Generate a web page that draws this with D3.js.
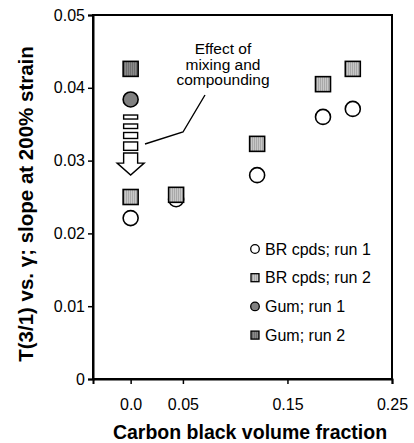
<!DOCTYPE html>
<html><head><meta charset="utf-8">
<script src="https://cdn.jsdelivr.net/npm/d3@7"></script>
<style>body{margin:0;background:#fff}svg{display:block}</style>
</head><body>
<script>
// ---- data ----
const brX = [0, 0.0435, 0.121, 0.184, 0.2125];
const brRun1 = [0.0221, 0.0247, 0.0280, 0.0360, 0.0371];
const brRun2 = [0.0250, 0.0253, 0.0323, 0.0405, 0.0426];
const gumX = [0];
const gumRun1 = [0.0384];
const gumRun2 = [0.0426];
const xTicks = [0, 0.05, 0.15, 0.25];
const xTickLabels = ["0.0", "0.05", "0.15", "0.25"];
const yTicks = [0, 0.01, 0.02, 0.03, 0.04, 0.05];
const yTickLabels = ["0", "0.01", "0.02", "0.03", "0.04", "0.05"];
const legendLabels = ["BR cpds; run 1", "BR cpds; run 2", "Gum; run 1", "Gum; run 2"];
const annotationLines = ["Effect of", "mixing and", "compounding"];
// arrow annotation in data units (x = 0): stripes then shaft and tip
const arrowStripes = [[0.03626, 0.03571], [0.03503, 0.03441], [0.03386, 0.03304], [0.03256, 0.03141]];
const arrowShaft = [0.03104, 0.02966];
const arrowTip = 0.02802;

const W = 414, H = 443;
const font = "'Liberation Sans', Arial, sans-serif";
const svg = d3.select("body").append("svg").attr("width", W).attr("height", H);

const x = d3.scaleLinear().domain([-0.036, 0.25]).range([93, 392]);
const y = d3.scaleLinear().domain([0, 0.05]).range([379, 15]);

// patterns
const defs = svg.append("defs");
function stripe(id, c1, c2) {
  const p = defs.append("pattern").attr("id", id).attr("patternUnits", "userSpaceOnUse")
    .attr("width", 2).attr("height", 2);
  p.append("rect").attr("width", 2).attr("height", 2).attr("fill", c1);
  p.append("rect").attr("width", 1).attr("height", 2).attr("fill", c2);
}
stripe("lightStripe", "#c8c8c8", "#a8a8a8");
stripe("darkStripe", "#8a8a8a", "#6e6e6e");

// frame
svg.append("rect").attr("x", x.range()[0]).attr("y", y.range()[1])
  .attr("width", x.range()[1] - x.range()[0]).attr("height", y.range()[0] - y.range()[1])
  .attr("fill", "none").attr("stroke", "#000").attr("stroke-width", 2);

// axes
const xAxis = d3.axisBottom(x).tickValues(xTicks).tickSize(5).tickPadding(15)
  .tickFormat((d, i) => xTickLabels[i]);
const gx = svg.append("g").attr("transform", `translate(0,${y.range()[0]})`).call(xAxis);
const yAxis = d3.axisLeft(y).tickValues(yTicks).tickSize(5).tickPadding(3)
  .tickFormat((d, i) => yTickLabels[i]);
const gy = svg.append("g").attr("transform", `translate(${x.range()[0]},0)`).call(yAxis);
[gx, gy].forEach(g => {
  g.select(".domain").attr("stroke", "#000").attr("stroke-width", 2);
  g.selectAll(".tick line").attr("stroke", "#000").attr("stroke-width", 1.5);
  g.selectAll("text").attr("font-family", font).attr("font-size", 16).attr("fill", "#000");
});

// axis titles
svg.append("text").attr("x", 250).attr("y", 439).attr("text-anchor", "middle")
  .attr("font-family", font).attr("font-size", 19.5).attr("font-weight", "bold")
  .text("Carbon black volume fraction");
svg.append("text").attr("transform", "translate(33,204) rotate(-90)").attr("text-anchor", "middle")
  .attr("font-family", font).attr("font-size", 20.5).attr("font-weight", "bold")
  .text("T(3/1) vs. \u03B3; slope at 200% strain");

// points
const S = 15, R = 7.5;
function circles(xs, ys, fill) {
  svg.append("g").selectAll("circle").data(ys).join("circle")
    .attr("cx", (d, i) => x(xs[i])).attr("cy", d => y(d)).attr("r", R)
    .attr("fill", fill).attr("stroke", "#000").attr("stroke-width", 1.6);
}
function squares(xs, ys, fill) {
  svg.append("g").selectAll("rect").data(ys).join("rect")
    .attr("x", (d, i) => x(xs[i]) - S / 2).attr("y", d => y(d) - S / 2)
    .attr("width", S).attr("height", S)
    .attr("fill", fill).attr("stroke", "#000").attr("stroke-width", 1.6);
}
circles(brX, brRun1, "#fff");
squares(brX, brRun2, "url(#lightStripe)");
circles(gumX, gumRun1, "#808080");
squares(gumX, gumRun2, "url(#darkStripe)");

// arrow annotation
const ax = x(0), bw = 14, hw = 27;
const ga = svg.append("g").attr("fill", "#fff").attr("stroke", "#000").attr("stroke-width", 1.4);
arrowStripes.forEach(s => {
  ga.append("rect").attr("x", ax - bw / 2).attr("y", y(s[0])).attr("width", bw)
    .attr("height", y(s[1]) - y(s[0]));
});
const sTop = y(arrowShaft[0]), sBot = y(arrowShaft[1]), tip = y(arrowTip);
ga.append("path").attr("d",
  `M${ax - bw / 2},${sTop}L${ax + bw / 2},${sTop}L${ax + bw / 2},${sBot}L${ax + hw / 2},${sBot}` +
  `L${ax},${tip}L${ax - hw / 2},${sBot}L${ax - bw / 2},${sBot}Z`);

// leader line
svg.append("path").attr("d", "M205,95L183,132L145,144").attr("fill", "none")
  .attr("stroke", "#000").attr("stroke-width", 1.4);

// annotation text
svg.append("g").selectAll("text").data(annotationLines).join("text")
  .attr("x", 223).attr("y", (d, i) => 54 + i * 15.5).attr("text-anchor", "middle")
  .attr("font-family", font).attr("font-size", 15.5).text(d => d);

// legend
const lg = svg.append("g").attr("font-family", font).attr("font-size", 16);
const ly = i => 249 + i * 28.7;
const legendFill = ["#fff", "url(#lightStripe)", "#808080", "url(#darkStripe)"];
const legendShape = ["circle", "square", "circle", "square"];
legendLabels.forEach((lab, i) => {
  if (legendShape[i] === "circle") {
    lg.append("circle").attr("cx", 255).attr("cy", ly(i)).attr("r", 4.3)
      .attr("fill", legendFill[i]).attr("stroke", "#000").attr("stroke-width", 1.3);
  } else {
    lg.append("rect").attr("x", 251).attr("y", ly(i) - 4).attr("width", 8).attr("height", 8)
      .attr("fill", legendFill[i]).attr("stroke", "#000").attr("stroke-width", 1.3);
  }
  lg.append("text").attr("x", 265).attr("y", ly(i)).attr("dy", "0.35em").text(lab);
});
</script>
</body></html>
